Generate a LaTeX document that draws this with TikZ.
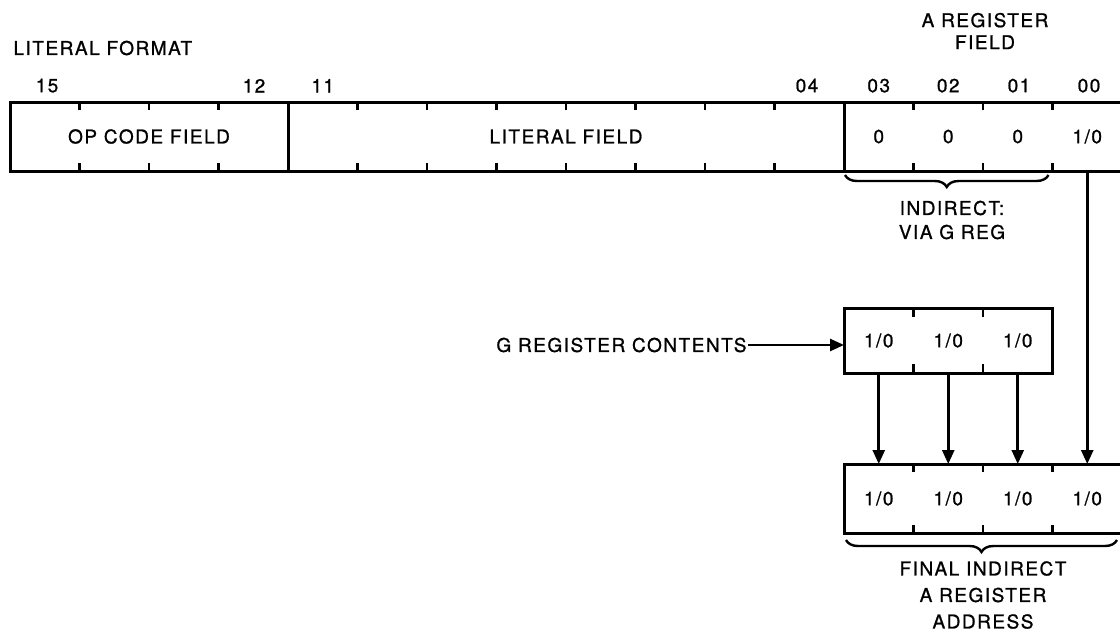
\documentclass[tikz,border=0pt]{standalone}
\usepackage{fontspec}
\setmainfont{TeX Gyre Heros}[LetterSpace=8, FakeBold=1]
\usetikzlibrary{arrows.meta,positioning,decorations.pathreplacing}
\newcommand{\regfont}{\fontsize{19}{22}\selectfont}

\begin{document}
\begin{tikzpicture}[
    x=1pt, y=-1pt,
    font=\regfont,
    line width=3pt,
    field/.style={draw, minimum height=69pt, inner sep=0pt, outer sep=0pt},
    cell/.style={minimum width=69.5pt, minimum height=69pt, inner sep=0pt, outer sep=0pt},
    gcell/.style={cell, minimum height=65pt},
    bitno/.style={anchor=south, inner sep=0pt},
    lbl/.style={align=center, inner sep=0pt},
    tck/.style={line width=2.6pt},
    arr/.style={-{Triangle[length=14pt,width=12pt]}, line width=2.6pt},
    brc/.style={decorate, decoration={brace, mirror, amplitude=12pt}, line width=2.4pt},
]
\useasboundingbox (0,0) rectangle (1120,635);

\node[anchor=west, inner sep=0pt] (title) at (12,48) {LITERAL FORMAT};
\node[lbl, font=\fontsize{19}{22}\selectfont] (afield) at (985,31) {A REGISTER\\FIELD};

\node[field, minimum width=278pt, anchor=north west] (op) at (10,102) {OP CODE FIELD};
\node[field, minimum width=556pt, right=0pt of op] (lit) {LITERAL FIELD};
\node[cell, right=0pt of lit] (a3) {0};
\node[cell, right=0pt of a3] (a2) {0};
\node[cell, right=0pt of a2] (a1) {0};
\node[cell, right=0pt of a1] (a0) {1/0};
\draw (a3.north west) rectangle (a0.south east);

\foreach \i in {1,2,3} {
    \draw[tck] (op.north west) ++(\i*69.5,0) -- ++(0,8);
    \draw[tck] (op.south west) ++(\i*69.5,0) -- ++(0,-8);
}
\foreach \i in {1,...,7} {
    \draw[tck] (lit.north west) ++(\i*69.5,0) -- ++(0,8);
    \draw[tck] (lit.south west) ++(\i*69.5,0) -- ++(0,-8);
}
\foreach \c in {a3,a2,a1} {
    \draw[tck] (\c.north east) -- ++(0,8);
    \draw[tck] (\c.south east) -- ++(0,-8);
}

\foreach \n/\x in {15/47, 12/254, 11/322.75, 04/807, 03/878.75, 02/948.25, 01/1019, 00/1089}
    \node[bitno] (b\n) at (\x,94) {\n};

\draw[brc] ([xshift=1pt, yshift=-4pt]a3.south west) -- ([xshift=-4pt, yshift=-4pt]a1.south east);
\node[lbl, font=\fontsize{19}{24}\selectfont] (indir) at (952,220) {INDIRECT:\\VIA G REG};

\node[gcell] (g2) at (878.75,340.5) {1/0};
\node[gcell, right=0pt of g2] (g1) {1/0};
\node[gcell, right=0pt of g1] (g0) {1/0};
\draw (g2.north west) rectangle (g0.south east);
\foreach \c in {g2,g1} {
    \draw[tck] (\c.north east) -- ++(0,9);
    \draw[tck] (\c.south east) -- ++(0,-9);
}

\node[anchor=east, inner sep=0pt] (gcon) at (748,345) {G REGISTER CONTENTS};
\draw[arr] (gcon.east) -- (gcon.east -| g2.west);

\node[cell] (f3) at (878.75,498.5) {1/0};
\node[cell, right=0pt of f3] (f2) {1/0};
\node[cell, right=0pt of f2] (f1) {1/0};
\node[cell, right=0pt of f1] (f0) {1/0};
\draw (f3.north west) rectangle (f0.south east);
\foreach \c in {f3,f2,f1} {
    \draw[tck] (\c.north east) -- ++(0,8);
    \draw[tck] (\c.south east) -- ++(0,-8);
}

\draw[arr] (g2.south) -- (f3.north);
\draw[arr] (g1.south) -- (f2.north);
\draw[arr] (g0.south) -- (f1.north);
\draw[arr] (a0.south) -- (f0.north);

\draw[brc] ([xshift=2pt, yshift=-7pt]f3.south west) -- ([xshift=-5pt, yshift=-7pt]f0.south east);
\node[lbl, font=\fontsize{19}{26.5}\selectfont] (final) at (983,595) {FINAL INDIRECT\\A REGISTER\\ADDRESS};
\end{tikzpicture}
\end{document}
